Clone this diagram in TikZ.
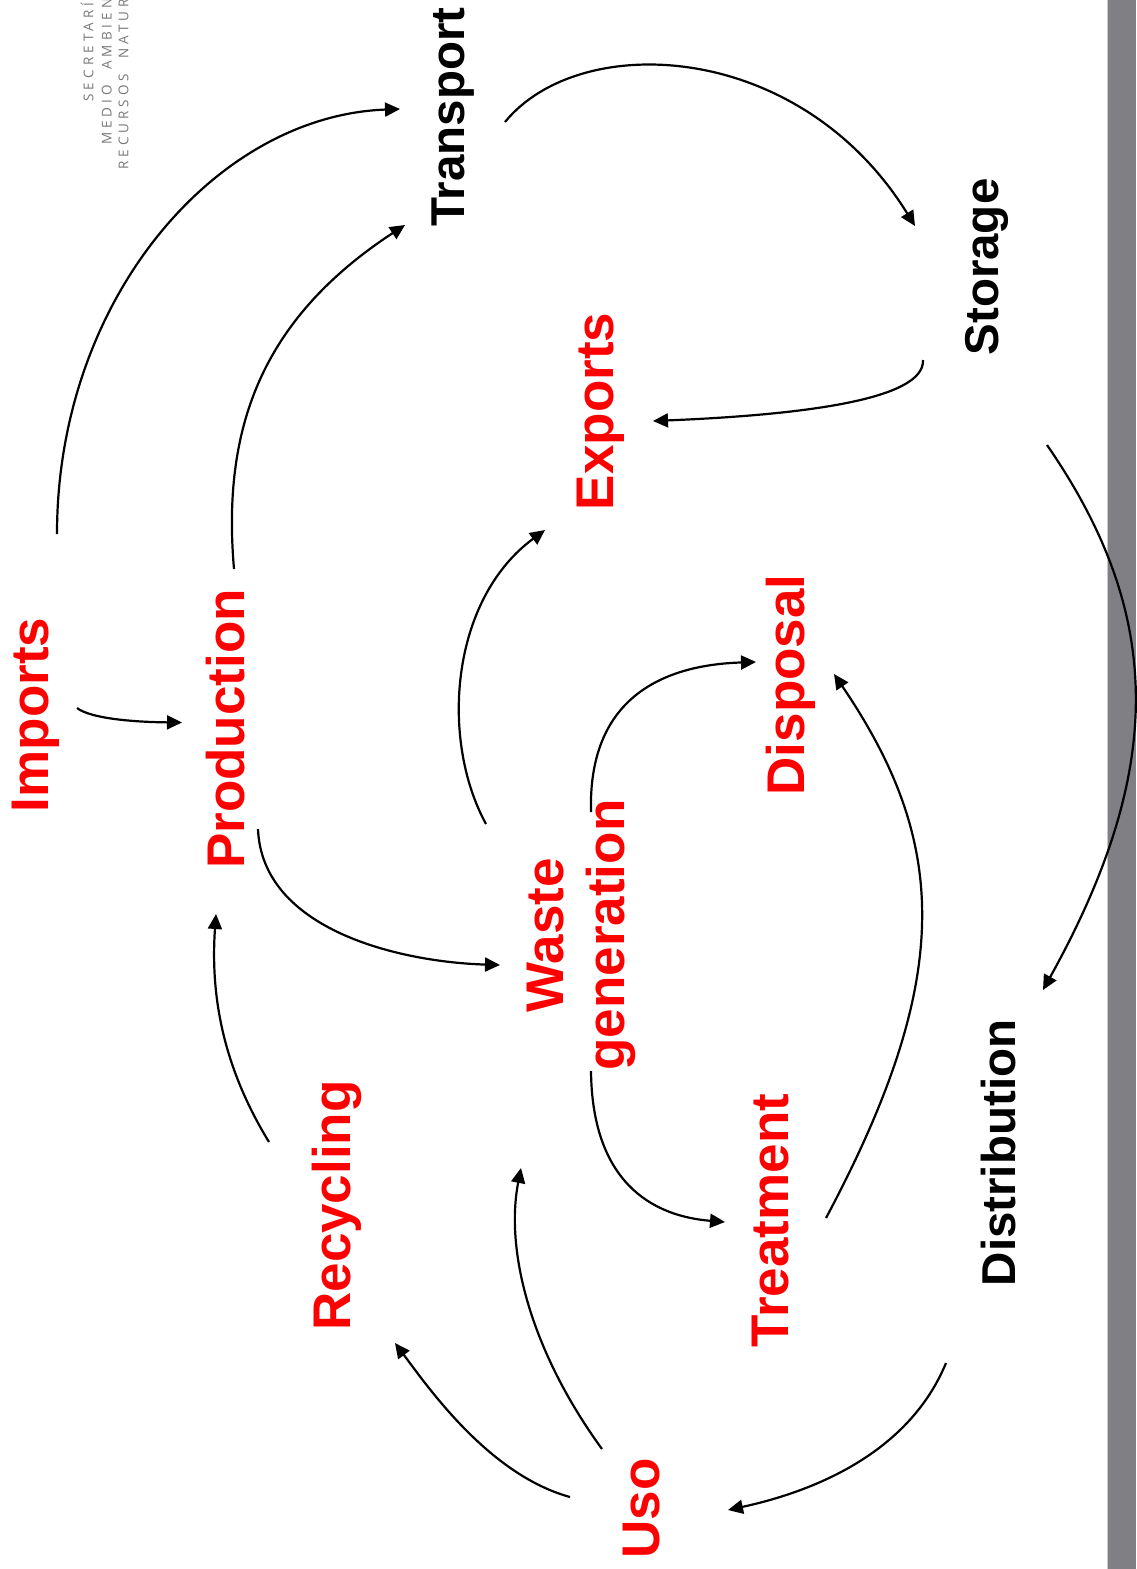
\documentclass[tikz,border=0pt]{standalone}
\usepackage{fontspec}
\setmainfont{Liberation Sans}
\newfontfamily\logofont[LetterSpace=30,WordSpace=2]{Open Sans}
\usetikzlibrary{arrows.meta}
\definecolor{lblred}{RGB}{255,0,0}
\definecolor{barg}{RGB}{128,127,132}
\definecolor{barl}{RGB}{200,200,202}
\definecolor{logog}{RGB}{120,120,120}
\begin{document}
\begin{tikzpicture}[x=1pt,y=-1pt,
  redlbl/.style={text=lblred, font=\fontsize{53}{61}\selectfont\bfseries, rotate=90, inner sep=0pt, anchor=base},
  blklbl/.style={text=black, font=\fontsize{47.5}{55}\selectfont\bfseries, rotate=90, inner sep=0pt, anchor=base},
  logotxt/.style={text=logog, font=\logofont\fontsize{13.5}{16}\selectfont, rotate=90, inner sep=0pt, anchor=base west},
  arr/.style={-{Triangle[length=15pt,width=14pt]}, line width=2.2pt, black}]
\useasboundingbox (0,0) rectangle (1136,1569);
% grey side bar
\fill[barg] (1108,0) rectangle (1136,1569);
\draw[barl, line width=1pt] (1107.5,0) -- (1107.5,1569);
% logo text
\node[logotxt] (logoa) at (93.3,101.7) {SECRETARÍ};
\node[logotxt] (logob) at (111.7,145) {MEDIO AMBIEN};
\node[logotxt] (logoc) at (128.3,170) {RECURSOS NATUR};
% labels
\node[redlbl] (imp) at (48,715) {Imports};
\node[redlbl] (prod) at (244.6,729) {Production};
\node[blklbl] (trans) at (464,117) {Transport};
\node[blklbl] (stor) at (998,267) {Storage};
\node[redlbl] (exp) at (613,411.5) {Exports};
\node[redlbl] (disp) at (804,685) {Disposal};
\node[redlbl, anchor=center, align=center] (waste) at (581,935) {Waste\\generation};
\node[redlbl] (rec) at (350,1205.5) {Recycling};
\node[redlbl] (treat) at (788,1220.5) {Treatment};
\node[blklbl] (dist) at (1015,1153) {Distribution};
\node[redlbl] (uso) at (659,1508.5) {Uso};
% connector end points
\coordinate (impA) at (57,534);      \coordinate (transA) at (400,109);
\coordinate (impB) at (77,708);      \coordinate (prodA) at (182,722.5);
\coordinate (prodB) at (234,569);    \coordinate (transB) at (405,225);
\coordinate (transC) at (505,122);   \coordinate (storA) at (915,226);
\coordinate (storB) at (923,360);    \coordinate (expA) at (653,421);
\coordinate (storC) at (1047,445);   \coordinate (distA) at (1043,990);
\coordinate (distB) at (946,1363);   \coordinate (usoA) at (728,1510);
\coordinate (usoB) at (570,1497);    \coordinate (recA) at (395,1343);
\coordinate (usoC) at (602,1449);    \coordinate (wasteA) at (521,1168);
\coordinate (recB) at (269,1142);    \coordinate (prodC) at (216,914);
\coordinate (prodD) at (258,829);    \coordinate (wasteB) at (500,965);
\coordinate (wasteC) at (486,824);   \coordinate (expB) at (545,530);
\coordinate (wasteD) at (591,812);   \coordinate (dispA) at (756,662);
\coordinate (wasteE) at (591,1071);  \coordinate (treatA) at (725,1222);
\coordinate (treatB) at (826,1218);  \coordinate (dispB) at (834,674);
% connectors
\draw[arr] (impA) .. controls (57,300) and (215,116) .. (transA);
\draw[arr] (impB) .. controls (90,718) and (130,722) .. (prodA);
\draw[arr] (prodB) .. controls (222,430) and (260,320) .. (transB);
\draw[arr] (transC) .. controls (580,30) and (800,40) .. (storA);
\draw[arr] (storB) .. controls (925,400) and (800,415) .. (expA);
\draw[arr] (storC) .. controls (1165,616) and (1165,770) .. (distA);
\draw[arr] (distB) .. controls (910,1450) and (820,1490) .. (usoA);
\draw[arr] (usoB) .. controls (490,1475) and (430,1390) .. (recA);
\draw[arr] (usoC) .. controls (530,1350) and (505,1250) .. (wasteA);
\draw[arr] (recB) .. controls (225,1070) and (210,1000) .. (prodC);
\draw[arr] (prodD) .. controls (262,930) and (400,962) .. (wasteB);
\draw[arr] (wasteC) .. controls (440,740) and (450,600) .. (expB);
\draw[arr] (wasteD) .. controls (588,700) and (660,665) .. (dispA);
\draw[arr] (wasteE) .. controls (592,1170) and (640,1215) .. (treatA);
\draw[arr] (treatB) .. controls (955,976) and (948,842) .. (dispB);
\end{tikzpicture}
\end{document}
